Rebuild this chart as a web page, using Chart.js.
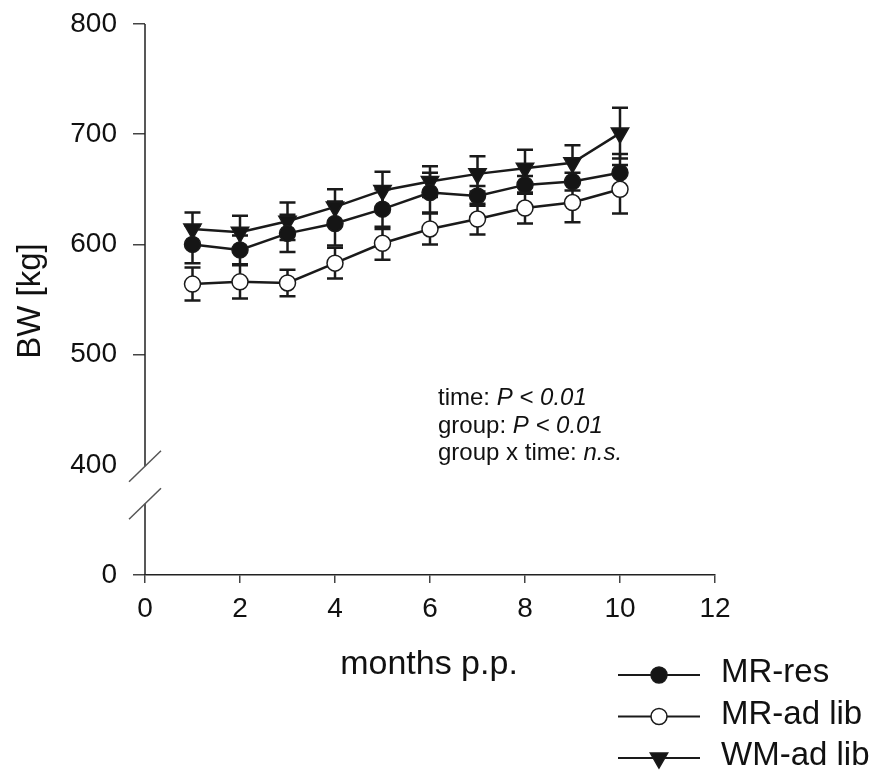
<!DOCTYPE html>
<html>
<head>
<meta charset="utf-8">
<script src="https://cdn.jsdelivr.net/npm/chart.js@4.4.1/dist/chart.umd.min.js"></script>
<style>
  html, body { margin: 0; padding: 0; background: #fff; }
</style>
</head>
<body>
<canvas id="bwChart" width="884" height="778"></canvas>
<script>
// body weight by month post partum, mean +/- error
const months = [1, 2, 3, 4, 5, 6, 7, 8, 9, 10];
const mrRes = [600, 595, 610, 619, 632, 647, 644, 654, 657, 665];
const mrResErr = [17, 13, 17, 20, 18, 18, 9, 8, 8, 17];
const mrAdLib = [564, 566, 565, 583, 601, 614, 623, 633, 638, 650];
const mrAdLibErr = [15, 15, 12, 14, 15, 14, 14, 14, 18, 22];
const wmAdLib = [614, 611, 621, 634, 649, 657, 664, 669, 674, 701];
const wmAdLibErr = [15, 15, 17, 16, 17, 14, 16, 17, 16, 23];

const xTicks = [0, 2, 4, 6, 8, 10, 12];
const yTicks = [400, 500, 600, 700, 800];
// the axis is broken below 400; the "0" tick sits one step lower
const yZeroAt = 300;

const FONT = 'Arial, "Liberation Sans", sans-serif';
const INK = '#111';

function points(vals) {
  return months.map((m, i) => ({ x: m, y: vals[i] }));
}

const errorBars = {
  id: 'errorBars',
  beforeDatasetsDraw(chart) {
    const { ctx, scales: { x, y } } = chart;
    ctx.save();
    ctx.strokeStyle = '#1a1a1a';
    ctx.lineWidth = 2.5;
    chart.data.datasets.forEach(ds => {
      ds.data.forEach((p, j) => {
        const e = ds.errors[j];
        const px = x.getPixelForValue(p.x);
        const top = y.getPixelForValue(p.y + e);
        const bot = y.getPixelForValue(p.y - e);
        ctx.beginPath();
        ctx.moveTo(px, top); ctx.lineTo(px, bot);
        ctx.moveTo(px - 8, top); ctx.lineTo(px + 8, top);
        ctx.moveTo(px - 8, bot); ctx.lineTo(px + 8, bot);
        ctx.stroke();
      });
    });
    ctx.restore();
  }
};

// y axis line with the break marks between 0 and 400
const brokenAxis = {
  id: 'brokenAxis',
  afterDraw(chart) {
    const { ctx, chartArea, scales: { y } } = chart;
    const ax = chartArea.left;
    const yBreak = y.getPixelForValue(yTicks[0]) + 1.5;
    const yBreak2 = yBreak + 37.5;
    ctx.save();
    ctx.strokeStyle = '#222';
    ctx.lineWidth = 1.5;
    ctx.beginPath();
    ctx.moveTo(ax, chartArea.top);
    ctx.lineTo(ax, yBreak);
    ctx.moveTo(ax, yBreak2);
    ctx.lineTo(ax, chartArea.bottom);
    ctx.stroke();
    ctx.strokeStyle = '#555';
    [yBreak, yBreak2].forEach(cy => {
      ctx.beginPath();
      ctx.moveTo(ax - 16, cy + 15.5);
      ctx.lineTo(ax + 16, cy - 15.5);
      ctx.stroke();
    });
    ctx.restore();
  }
};

const labels = {
  id: 'labels',
  afterDraw(chart) {
    const { ctx } = chart;
    ctx.save();
    ctx.fillStyle = INK;

    // axis titles
    ctx.textAlign = 'center';
    ctx.textBaseline = 'middle';
    ctx.font = '34px ' + FONT;
    ctx.fillText('months p.p.', 429, 665);
    ctx.save();
    ctx.translate(31, 301);
    ctx.rotate(-Math.PI / 2);
    ctx.font = '33px ' + FONT;
    ctx.fillText('BW [kg]', 0, 0);
    ctx.restore();

    // statistics
    const stats = [
      ['time: ', 'P < 0.01'],
      ['group: ', 'P < 0.01'],
      ['group x time: ', 'n.s.']
    ];
    ctx.textAlign = 'left';
    ctx.textBaseline = 'alphabetic';
    stats.forEach((s, i) => {
      const by = 405 + i * 27.5;
      ctx.font = '24px ' + FONT;
      ctx.fillText(s[0], 438, by);
      const w = ctx.measureText(s[0]).width;
      ctx.font = 'italic 24px ' + FONT;
      ctx.fillText(s[1], 438 + w, by);
    });

    // legend
    ctx.font = '33px ' + FONT;
    ctx.textBaseline = 'middle';
    chart.data.datasets.forEach((ds, i) => {
      const ly = 675 + i * 41.5;
      ctx.strokeStyle = '#1a1a1a';
      ctx.lineWidth = 2;
      ctx.beginPath();
      ctx.moveTo(618, ly); ctx.lineTo(700, ly);
      ctx.stroke();
      ctx.fillStyle = ds.pointBackgroundColor;
      ctx.strokeStyle = ds.pointBorderColor;
      ctx.lineWidth = ds.pointBorderWidth;
      Chart.helpers.drawPoint(ctx, {
        pointStyle: ds.pointStyle,
        rotation: ds.pointRotation || 0,
        radius: ds.pointRadius,
        borderWidth: ds.pointBorderWidth
      }, 659, ly);
      ctx.fillStyle = INK;
      ctx.fillText(ds.label, 721, ly - 2);
    });
    ctx.restore();
  }
};

function series(label, vals, errs, style) {
  return Object.assign({
    label: label,
    data: points(vals),
    errors: errs,
    borderColor: '#1a1a1a',
    borderWidth: 2.5,
    pointBorderColor: '#1a1a1a',
    pointBorderWidth: 1.5,
    pointRadius: 8,
    pointHoverRadius: 8,
    tension: 0
  }, style);
}

new Chart(document.getElementById('bwChart').getContext('2d'), {
  type: 'line',
  data: {
    datasets: [
      series('MR-res', mrRes, mrResErr, {
        pointStyle: 'circle', pointBackgroundColor: '#151515'
      }),
      series('MR-ad lib', mrAdLib, mrAdLibErr, {
        pointStyle: 'circle', pointBackgroundColor: '#ffffff'
      }),
      series('WM-ad lib', wmAdLib, wmAdLibErr, {
        pointStyle: 'triangle', pointRotation: 180, pointRadius: 10,
        pointBackgroundColor: '#151515'
      })
    ]
  },
  options: {
    responsive: false,
    animation: false,
    devicePixelRatio: 1,
    layout: { padding: { top: 24, right: 169, left: 0, bottom: 0 } },
    plugins: {
      legend: { display: false },
      tooltip: { enabled: false }
    },
    scales: {
      x: {
        type: 'linear',
        min: 0,
        max: 12,
        afterBuildTicks(scale) {
          scale.ticks = xTicks.map(v => ({ value: v }));
        },
        afterFit(scale) { scale.height = 203; },
        border: { display: true, color: '#222', width: 1.5 },
        grid: { drawOnChartArea: false, drawTicks: true, tickLength: 8, color: '#444', lineWidth: 1.5 },
        ticks: { color: INK, font: { family: FONT, size: 28 }, padding: 9, maxRotation: 0 }
      },
      y: {
        type: 'linear',
        min: yZeroAt,
        max: 800,
        afterBuildTicks(scale) {
          scale.ticks = [yZeroAt].concat(yTicks).map(v => ({ value: v }));
        },
        afterFit(scale) {
          scale.width = 145;
          // let the layout padding alone decide where the top tick sits
          scale.paddingTop = 0;
          scale.paddingBottom = 0;
        },
        border: { display: false },
        grid: {
          drawOnChartArea: false,
          drawTicks: true,
          tickLength: 12,
          lineWidth: 1.5,
          color: c => (c.tick && c.tick.value === yTicks[0]) ? 'rgba(0,0,0,0)' : '#444'
        },
        ticks: {
          color: INK,
          font: { family: FONT, size: 28 },
          padding: 16,
          callback: v => (v === yZeroAt ? '0' : String(v))
        }
      }
    }
  },
  plugins: [errorBars, brokenAxis, labels]
});
</script>
</body>
</html>
